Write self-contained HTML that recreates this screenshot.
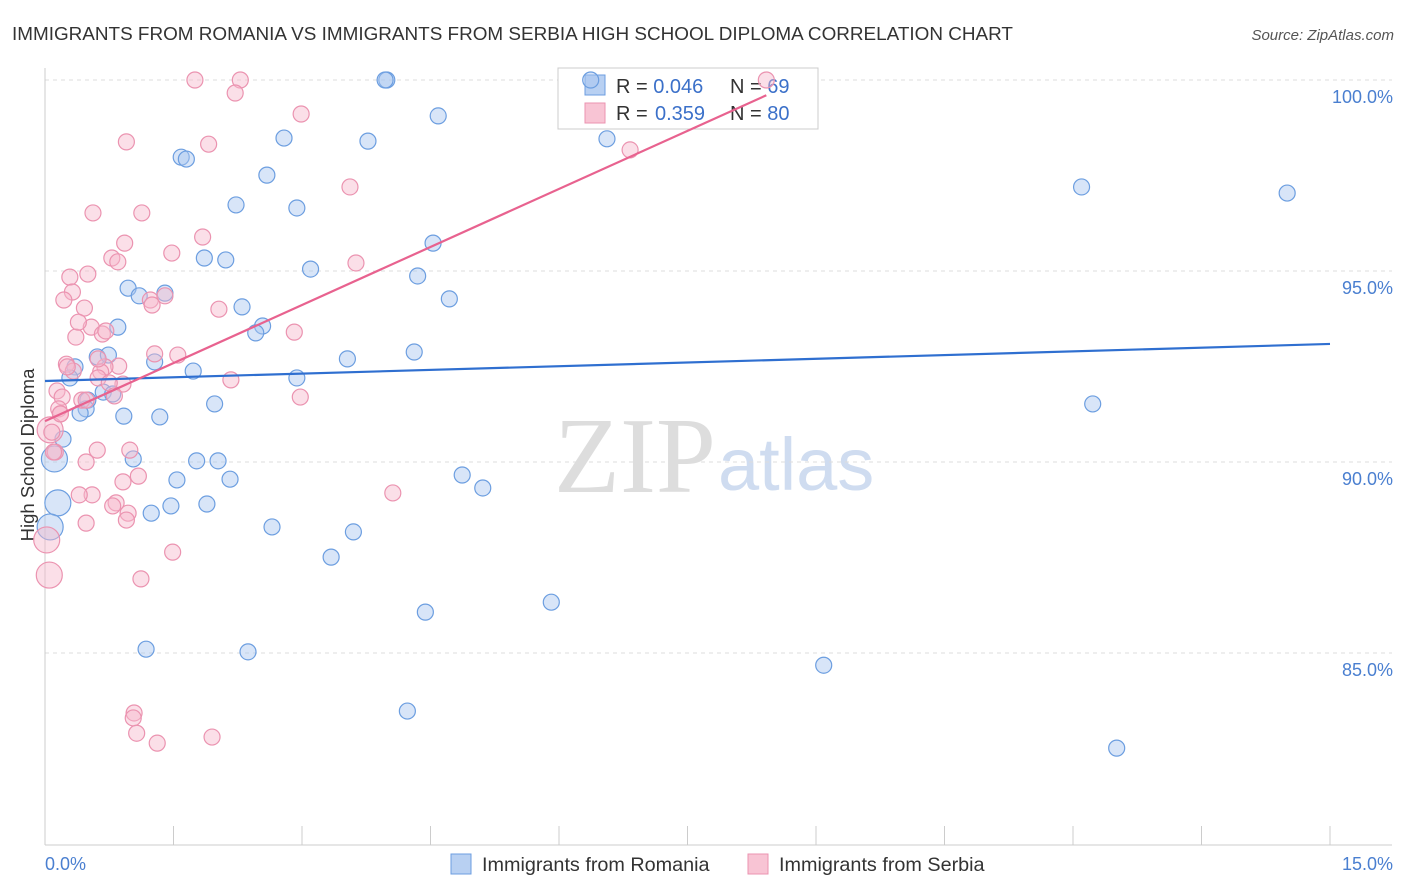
<!DOCTYPE html>
<html><head><meta charset="utf-8"><style>
body{margin:0;background:#fff;font-family:"Liberation Sans",sans-serif;}
#wrap{position:relative;width:1406px;height:892px;overflow:hidden;}
</style></head><body>
<div id="wrap">
<svg id="svg" width="1406" height="892" xmlns="http://www.w3.org/2000/svg">
<text x="12" y="40" font-size="18.9" fill="#333">IMMIGRANTS FROM ROMANIA VS IMMIGRANTS FROM SERBIA HIGH SCHOOL DIPLOMA CORRELATION CHART</text>
<text x="1394" y="40" font-size="15" fill="#555" font-style="italic" text-anchor="end">Source: ZipAtlas.com</text>
<text x="716" y="492" font-size="108" fill="#ddd" text-anchor="end" font-family="Liberation Serif,serif">ZIP</text>
<text x="718" y="490" font-size="74" fill="#cfdcf0">atlas</text>
<text transform="translate(34,455) rotate(-90)" font-size="18.5" fill="#333" text-anchor="middle">High School Diploma</text>
<g id="grid"></g>
<g>
<rect x="558" y="68" width="260" height="61" fill="#fff" stroke="#ccc"/>
<rect x="585" y="75" width="20" height="20" fill="#b8d0f2" stroke="#6c9ee0"/>
<rect x="585" y="103" width="20" height="20" fill="#f8c4d4" stroke="#eb93b0"/>
<text x="616" y="93" font-size="20" fill="#333">R = <tspan fill="#3b70c9">0.046</tspan><tspan x="730">N = </tspan><tspan fill="#3b70c9">69</tspan></text>
<text x="616" y="120" font-size="20" fill="#333">R = <tspan x="655" fill="#3b70c9">0.359</tspan><tspan x="730">N = </tspan><tspan fill="#3b70c9">80</tspan></text>
</g>
<g id="marks"></g>
<g>
<rect x="451" y="854" width="20" height="20" fill="#b8d0f2" stroke="#6c9ee0"/>
<text x="482" y="871" font-size="19.8" fill="#333">Immigrants from Romania</text>
<rect x="748" y="854" width="20" height="20" fill="#f8c4d4" stroke="#eb93b0"/>
<text x="779" y="871" font-size="19.8" fill="#333">Immigrants from Serbia</text>
</g>
</svg></div>
<script>
const xTicks=[0,1.5,3,4.5,6,7.5,9,10.5,12,13.5,15];
const yTicks=[100,95,90,85];
const yTickLabels=["100.0%","95.0%","90.0%","85.0%"];
const blueX=[3.99,3.97,6.37,4.59,2.79,3.77,6.56,1.59,1.65,2.59,2.23,2.94,12.10,14.50,4.53,1.86,2.11,3.10,4.35,0.97,1.10,1.40,4.72,2.30,0.85,2.54,2.46,0.61,0.74,1.28,3.53,4.31,0.35,0.29,1.73,2.94,0.68,0.79,0.50,0.48,0.41,0.92,1.34,1.98,12.23,0.21,0.11,1.03,1.77,2.02,4.87,1.54,2.16,5.11,0.15,1.47,1.89,1.24,2.65,3.60,0.06,3.34,5.91,4.44,1.18,2.37,9.09,4.23,12.51];
const blueY=[100,100,100,99.06,98.48,98.40,98.46,97.98,97.93,97.51,96.73,96.65,97.20,97.04,95.73,95.34,95.29,95.05,94.87,94.55,94.35,94.42,94.27,94.06,93.53,93.56,93.38,92.75,92.80,92.62,92.70,92.88,92.49,92.20,92.38,92.20,91.83,91.78,91.62,91.39,91.28,91.20,91.18,91.52,91.52,90.60,90.08,90.08,90.03,90.03,89.66,89.53,89.55,89.32,88.93,88.85,88.90,88.66,88.30,88.17,88.30,87.51,86.33,86.07,85.10,85.03,84.68,83.48,82.51];
const blueBig=[60,46,54];
const pinkX=[1.75,2.28,8.42,2.22,2.99,0.95,1.91,6.83,3.56,0.56,1.13,1.84,0.93,1.48,3.63,0.78,0.85,0.29,0.50,0.32,0.22,1.23,1.25,1.40,0.46,2.03,0.54,0.67,0.71,0.36,2.91,0.39,1.28,1.55,0.25,0.33,0.86,0.70,0.65,0.62,0.91,2.17,0.75,0.14,0.20,0.81,0.43,2.98,0.16,0.18,0.06,0.08,0.61,0.99,0.12,0.48,1.09,0.91,0.55,0.40,0.83,0.79,4.06,0.97,0.95,0.48,0.02,1.49,0.05,1.12,1.04,1.03,1.07,1.31,1.95,0.10,0.18,0.62,0.26,0.48];
const pinkY=[100,100,100,99.66,99.11,98.38,98.32,98.17,97.20,96.52,96.52,95.89,95.73,95.47,95.21,95.34,95.24,94.84,94.92,94.45,94.24,94.24,94.11,94.35,94.03,94.00,93.53,93.35,93.43,93.27,93.40,93.66,92.83,92.80,92.56,92.38,92.51,92.49,92.36,92.20,92.04,92.15,92.07,91.86,91.70,91.73,91.62,91.70,91.39,91.26,90.84,90.78,90.31,90.31,90.26,90.00,89.63,89.48,89.14,89.14,88.93,88.85,89.19,88.66,88.48,88.40,87.96,87.64,87.04,86.94,83.43,83.30,82.90,82.64,82.80,90.26,91.26,92.70,92.49,91.62];
const pinkBig=[66,68,50];
const blueLine=[[0,92.12],[15,93.09]];
const pinkLine=[[0,91.07],[8.42,99.6]];
const xs=v=>45+v/15*1285, ys=v=>80+(100-v)/5*191;
const NS="http://www.w3.org/2000/svg";
function mk(t,a,p){const e=document.createElementNS(NS,t);for(const k in a)e.setAttribute(k,a[k]);p.appendChild(e);return e;}
const g=document.getElementById('grid'),m=document.getElementById('marks');
yTicks.forEach((v,i)=>{const l=mk('line',{x1:45,x2:1392,y1:ys(v),y2:ys(v),stroke:'#ddd','stroke-dasharray':'4,4'},g);


const t=mk('text',{x:1393,y:ys(v)+23,'font-size':18,fill:'#4a7fd0','text-anchor':'end'},g);t.textContent=yTickLabels[i];

});
const ax=mk('line',{x1:45,x2:45,y1:68,y2:845,stroke:'#ccc'},g);


const bx=mk('line',{x1:45,x2:1392,y1:845,y2:845,stroke:'#ccc'},g);


xTicks.forEach(v=>{const l=mk('line',{x1:xs(v),x2:xs(v),y1:826,y2:845,stroke:'#ccc'},g);

});
[[0,"0.0%","start",45],[15,"15.0%","end",1393]].forEach(([v,s,a,x])=>{const t=mk('text',{x:x,y:870,'font-size':18,fill:'#4a7fd0','text-anchor':a},g);t.textContent=s;

});
function pts(X,Y,big,fill,stroke,name){X.forEach((x,i)=>{const r=big.includes(i)?13:8;
const c=mk('circle',{cx:xs(x),cy:ys(Y[i]),r:r,fill:fill,'fill-opacity':0.45,stroke:stroke,'stroke-width':1.2},m);

});}
pts(blueX,blueY,blueBig,'#a9c6f0','#6c9ee0','romania-point');
pts(pinkX,pinkY,pinkBig,'#f6b9cc','#eb93b0','serbia-point');
const bl=mk('line',{x1:xs(blueLine[0][0]),y1:ys(blueLine[0][1]),x2:xs(blueLine[1][0]),y2:ys(blueLine[1][1]),stroke:'#2f6fd0','stroke-width':2.2},m);


const pl=mk('line',{x1:xs(pinkLine[0][0]),y1:ys(pinkLine[0][1]),x2:xs(pinkLine[1][0]),y2:ys(pinkLine[1][1]),stroke:'#e8628f','stroke-width':2.2},m);


</script>
</body></html>
